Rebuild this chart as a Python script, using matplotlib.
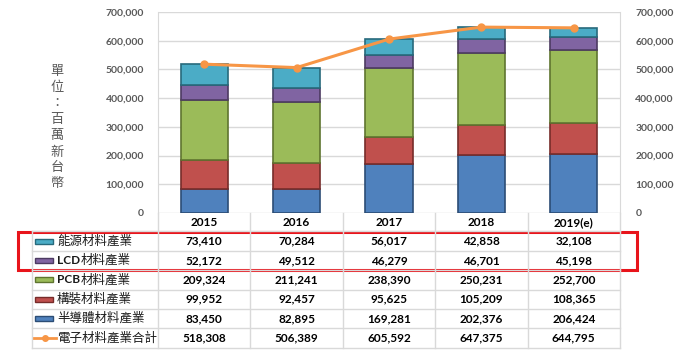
import numpy as np
import matplotlib.pyplot as plt
from matplotlib.patches import Rectangle
from matplotlib.lines import Line2D

plt.rcParams['font.family'] = ['Lato', 'Noto Sans CJK TC', 'DejaVu Sans']

years = ['2015', '2016', '2017', '2018', '2019(e)']
semi = [83450, 82895, 169281, 202376, 206424]
pack = [99952, 92457, 95625, 105209, 108365]
pcb = [209324, 211241, 238390, 250231, 252700]
lcd = [52172, 49512, 46279, 46701, 45198]
energy = [73410, 70284, 56017, 42858, 32108]
total = [518308, 506389, 605592, 647375, 644795]

names = ['半導體材料產業', '構裝材料產業', 'PCB材料產業', 'LCD材料產業', '能源材料產業']
colors = ['#4F81BD', '#C0504D', '#9BBB59', '#8064A2', '#4BACC6']
edges = ['#2C4D75', '#772C2A', '#5F7530', '#4D3B62', '#276A7C']
line_color = '#F79646'
total_name = '電子材料產業合計'

W, H = 680, 352
fig = plt.figure(figsize=(W / 100, H / 100), dpi=100)

# pixel helpers
def fx(px):
    return px / W

def fy(py):
    return 1 - py / H

ax_l, ax_r, ax_t, ax_b = 158, 620, 12, 213
ax = fig.add_axes([fx(ax_l), fy(ax_b), fx(ax_r - ax_l), (ax_b - ax_t) / H])

x = np.arange(len(years))
series = [semi, pack, pcb, lcd, energy]
bottom = np.zeros(len(years))
for vals, c, e in zip(series, colors, edges):
    ax.bar(x, vals, 0.51, bottom=bottom, color=c, edgecolor=e, linewidth=1.2, zorder=3)
    bottom += np.array(vals)

ax.plot(x, total, color=line_color, lw=2.2, marker='o', ms=5, zorder=4)

ax.set_xlim(-0.5, len(years) - 0.5)
ax.set_ylim(0, 700000)
ticks = np.arange(0, 700001, 100000)
ax.set_yticks(ticks)
ax.set_yticklabels([f'{t:,}' for t in ticks])
ax.grid(axis='y', color='#D9D9D9', lw=1, zorder=0)
ax.set_xticks(x)
ax.set_xticklabels(years, fontweight='bold', fontsize=8.5, color='black')
ax.tick_params(axis='x', length=0, pad=3)
ax.tick_params(axis='y', length=0, pad=10, labelsize=7.5, labelcolor='#595959')
for lab in ax.get_yticklabels():
    lab.set_fontweight('bold')
for s in ['top', 'bottom']:
    ax.spines[s].set_visible(False)
for s in ['left', 'right']:
    ax.spines[s].set_color('#D9D9D9')

ax2 = ax.twinx()
ax2.set_ylim(ax.get_ylim())
ax2.set_yticks(ticks)
ax2.set_yticklabels([f'{t:,}' for t in ticks])
ax2.tick_params(axis='y', length=0, pad=11, labelsize=7.5, labelcolor='#595959')
for lab in ax2.get_yticklabels():
    lab.set_fontweight('bold')
for s in ax2.spines.values():
    s.set_visible(False)

# unit label
fig.text(fx(57), fy(128), '單\n位\n：\n百\n萬\n新\n台\n幣', ha='center', va='center',
         fontsize=9.5, color='#595959', linespacing=1.3, family=['Noto Sans CJK TC'])

# data table
grid_c = '#D9D9D9'
tab_l = 32
row_top = 231.3
row_h = 19.4
col_w = (ax_r - ax_l) / len(years)
rows = [(names[4], energy, colors[4], edges[4]),
        (names[3], lcd, colors[3], edges[3]),
        (names[2], pcb, colors[2], edges[2]),
        (names[1], pack, colors[1], edges[1]),
        (names[0], semi, colors[0], edges[0]),
        (total_name, total, None, None)]
n = len(rows)
tab_b = row_top + n * row_h

# horizontal lines
for i in range(n + 1):
    yy = row_top + i * row_h
    fig.add_artist(Line2D([fx(tab_l), fx(ax_r)], [fy(yy), fy(yy)], color=grid_c, lw=1))
# vertical lines
fig.add_artist(Line2D([fx(tab_l), fx(tab_l)], [fy(row_top), fy(tab_b)], color=grid_c, lw=1))
for j in range(len(years) + 1):
    xx = ax_l + j * col_w
    fig.add_artist(Line2D([fx(xx), fx(xx)], [fy(ax_b), fy(tab_b)], color=grid_c, lw=1))

renderer = fig.canvas.get_renderer()
for i, (name, vals, c, e) in enumerate(rows):
    yc = row_top + (i + 0.5) * row_h
    if c is not None:
        fig.add_artist(Rectangle((fx(35), fy(yc + 2.5)), fx(18), 5 / H,
                                 facecolor=c, edgecolor=e, lw=1))
    else:
        fig.add_artist(Line2D([fx(34), fx(45), fx(56)], [fy(yc)] * 3, color=line_color, lw=2,
                              marker='o', ms=4, markevery=[1]))
    # latin prefix in bold, CJK part regular
    prefix = name[:3] if name[:3] in ('PCB', 'LCD') else ''
    x0 = 57
    if prefix:
        t = fig.text(fx(x0), fy(yc), prefix, ha='left', va='center', fontsize=8.5,
                     fontweight='bold', color='#1A1A1A')
        x0 += t.get_window_extent(renderer).width + 0.5
    fig.text(fx(x0), fy(yc), name[len(prefix):], ha='left', va='center', fontsize=9,
             color='#1A1A1A', family=['Noto Sans CJK TC'])
    for j, v in enumerate(vals):
        fig.text(fx(ax_l + (j + 0.5) * col_w), fy(yc), f'{v:,}', ha='center', va='center',
                 fontsize=8.5, fontweight='bold', color='black')

# red highlight box
fig.add_artist(Rectangle((fx(18), fy(270)), fx(637 - 18), 38 / H, fill=False,
                         edgecolor='#E8141B', lw=2.2))

fig.savefig('out.png', dpi=100)
